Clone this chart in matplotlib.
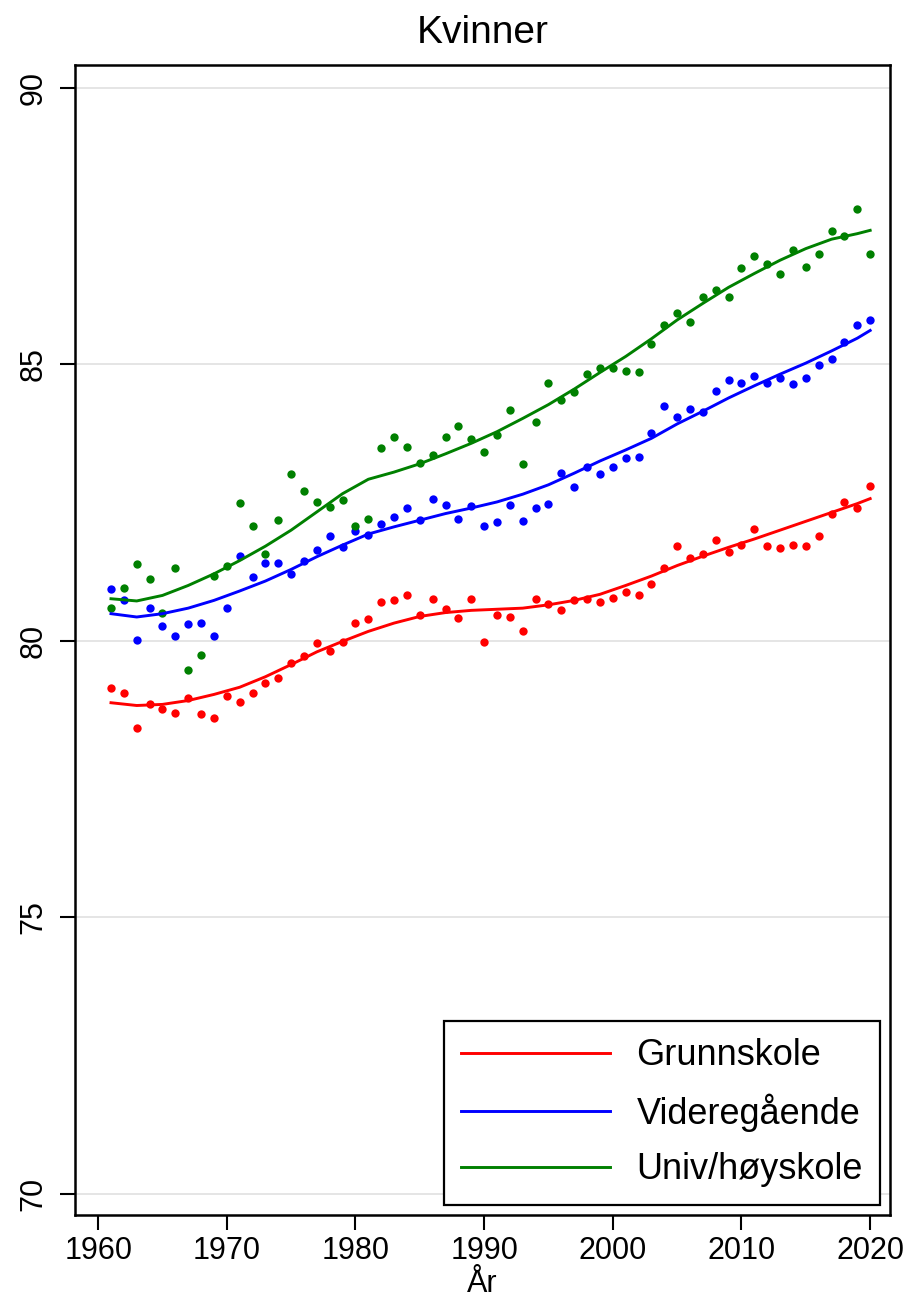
import matplotlib
matplotlib.use("Agg")
import matplotlib.pyplot as plt

plt.rcParams['font.family'] = ['Liberation Sans', 'DejaVu Sans']

years = list(range(1961, 2021))

grunnskole = [79.15, 79.05, 78.43, 78.85, 78.77, 78.70, 78.96, 78.68, 78.60, 79.01,
              78.90, 79.06, 79.24, 79.32, 79.60, 79.72, 79.96, 79.82, 79.98, 80.33,
              80.40, 80.70, 80.73, 80.82, 80.46, 80.75, 80.58, 80.42, 80.76, 79.98,
              80.46, 80.43, 80.18, 80.75, 80.66, 80.55, 80.73, 80.76, 80.70, 80.78,
              80.88, 80.82, 81.02, 81.31, 81.72, 81.50, 81.56, 81.83, 81.60, 81.74,
              82.02, 81.71, 81.68, 81.74, 81.71, 81.90, 82.30, 82.50, 82.40, 82.80]

videregaende = [80.94, 80.73, 80.01, 80.60, 80.27, 80.09, 80.31, 80.32, 80.09, 80.60,
                81.54, 81.15, 81.40, 81.40, 81.20, 81.44, 81.65, 81.89, 81.69, 81.99,
                81.91, 82.12, 82.24, 82.40, 82.18, 82.56, 82.45, 82.20, 82.43, 82.08,
                82.14, 82.45, 82.17, 82.40, 82.47, 83.04, 82.78, 83.14, 83.02, 83.14,
                83.31, 83.32, 83.76, 84.25, 84.04, 84.19, 84.13, 84.52, 84.72, 84.66,
                84.78, 84.66, 84.75, 84.64, 84.75, 84.99, 85.09, 85.40, 85.70, 85.80]

univ = [80.59, 80.95, 81.38, 81.11, 80.51, 81.32, 79.48, 79.74, 81.18, 81.35,
        82.49, 82.08, 81.57, 82.19, 83.02, 82.70, 82.50, 82.42, 82.55, 82.08,
        82.20, 83.48, 83.68, 83.50, 83.21, 83.35, 83.68, 83.89, 83.64, 83.42,
        83.72, 84.17, 83.20, 83.95, 84.66, 84.35, 84.50, 84.82, 84.94, 84.94,
        84.88, 84.86, 85.37, 85.71, 85.92, 85.77, 86.22, 86.34, 86.21, 86.74,
        86.95, 86.81, 86.63, 87.07, 86.75, 87.00, 87.40, 87.31, 87.80, 87.00]

fit_years = [1961, 1963, 1965, 1967, 1969, 1971, 1973, 1975, 1977, 1979,
             1981, 1983, 1985, 1987, 1989, 1991, 1993, 1995, 1997, 1999,
             2001, 2003, 2005, 2007, 2009, 2011, 2013, 2015, 2017, 2019, 2020]

fit_grunnskole = [78.88, 78.83, 78.85, 78.92, 79.03, 79.16, 79.35, 79.57, 79.80, 79.99,
                  80.17, 80.32, 80.44, 80.51, 80.55, 80.57, 80.59, 80.65, 80.73, 80.84,
                  81.00, 81.17, 81.36, 81.53, 81.69, 81.84, 82.00, 82.16, 82.32, 82.48, 82.57]

fit_videregaende = [80.49, 80.43, 80.49, 80.59, 80.73, 80.90, 81.08, 81.29, 81.52, 81.73,
                    81.93, 82.06, 82.18, 82.30, 82.40, 82.51, 82.65, 82.82, 83.03, 83.25,
                    83.45, 83.66, 83.92, 84.15, 84.39, 84.61, 84.82, 85.02, 85.24, 85.47, 85.61]

fit_univ = [80.76, 80.72, 80.82, 81.00, 81.21, 81.45, 81.71, 82.00, 82.33, 82.66,
            82.92, 83.05, 83.20, 83.38, 83.57, 83.78, 84.02, 84.27, 84.55, 84.85,
            85.14, 85.46, 85.80, 86.10, 86.39, 86.64, 86.88, 87.09, 87.26, 87.36, 87.42]

labels = ["Grunnskole", "Videregående", "Univ/høyskole"]
colors = ["#ff0000", "#0000ff", "#008000"]

x_ticks = [1960, 1970, 1980, 1990, 2000, 2010, 2020]
y_ticks = [70, 75, 80, 85, 90]

fig = plt.figure(figsize=(9.12, 12.99), dpi=100)
ax = fig.add_axes([0.0822, 0.0647, 0.8938, 0.8853])

for yt in y_ticks:
    ax.axhline(yt, color="#e3e3e3", lw=1.3, zorder=0)

series = [grunnskole, videregaende, univ]
fits = [fit_grunnskole, fit_videregaende, fit_univ]
for s, f, c, lab in zip(series, fits, colors, labels):
    ax.plot(years, s, 'o', color=c, markersize=6, markeredgewidth=0, zorder=3)
    ax.plot(fit_years, f, '-', color=c, lw=2.1, label=lab, zorder=4)

ax.set_xlim(1958.2, 2021.55)
ax.set_ylim(69.62, 90.41)
ax.set_xticks(x_ticks)
ax.set_yticks(y_ticks)
ax.tick_params(axis='both', direction='out', length=11, width=1.5, labelsize=22,
               colors='black')
ax.tick_params(axis='x', pad=4)
ax.tick_params(axis='y', labelrotation=90, pad=8)
for lab in ax.get_yticklabels():
    lab.set_va('center')
for sp in ax.spines.values():
    sp.set_linewidth(1.8)
    sp.set_color('black')

ax.set_title("Kvinner", fontsize=28, pad=16)
ax.set_xlabel("År", fontsize=22, labelpad=2)

leg = ax.legend(loc='lower right', bbox_to_anchor=(0.988, 0.009), fontsize=26,
                frameon=True, fancybox=False, edgecolor='black', framealpha=1,
                handlelength=4.1, handletextpad=0.75, labelspacing=0.56,
                borderpad=0.48, borderaxespad=0)
leg.get_frame().set_linewidth(1.6)

fig.savefig("out.png", dpi=100)
